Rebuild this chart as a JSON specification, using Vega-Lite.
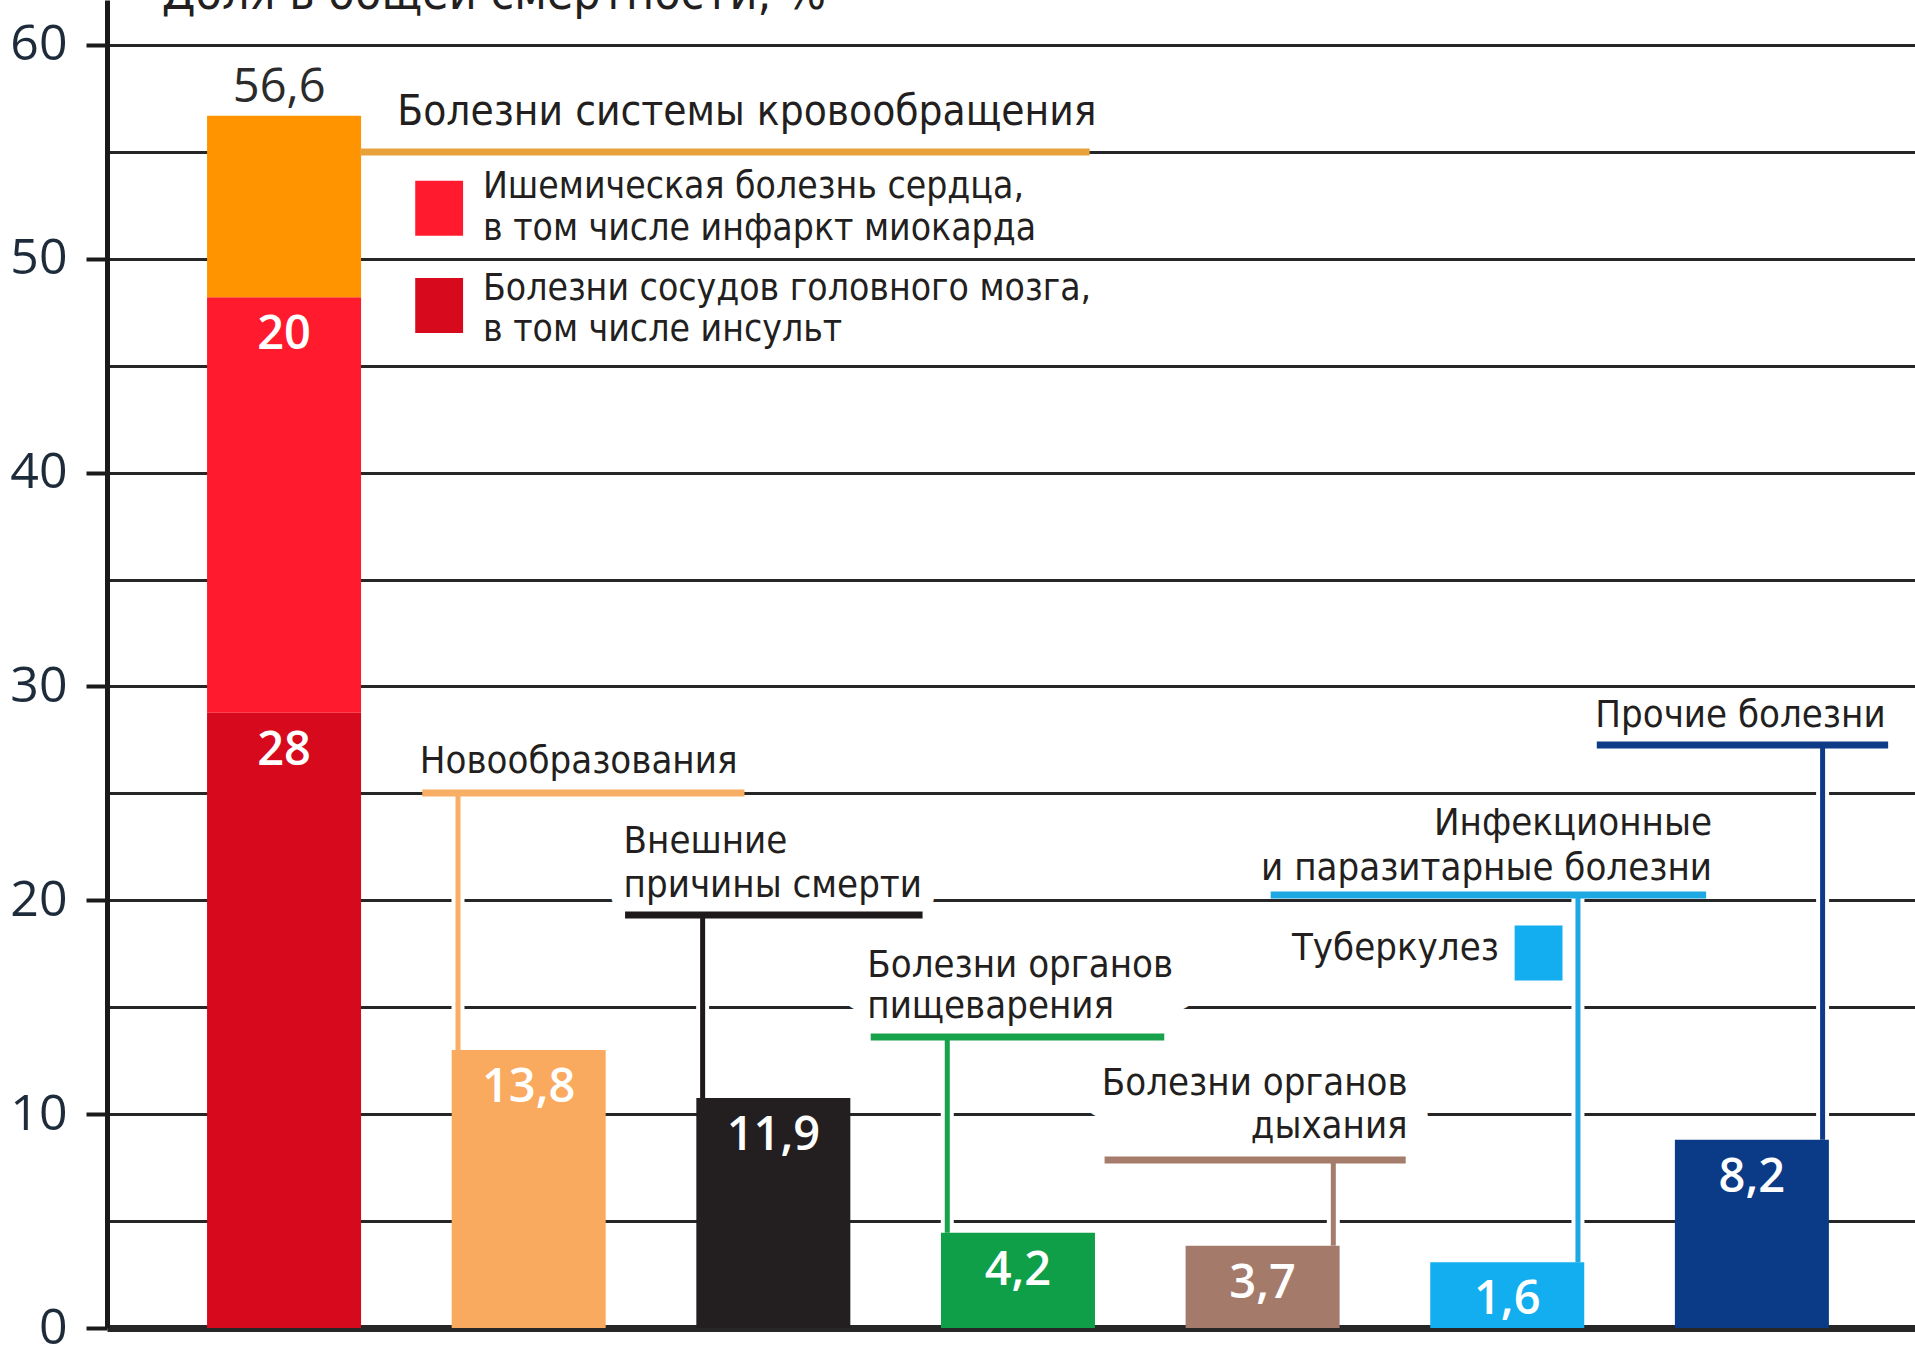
{
  "$schema": "https://vega.github.io/schema/vega-lite/v6.json",
  "width": 1808,
  "height": 1328,
  "autosize": {"type": "none"},
  "padding": {"left": 107, "top": 0, "right": 0, "bottom": 29},
  "background": "white",
  "config": {"view": {"stroke": null}},
  "datasets": {
    "bars": [
      {"x": 0, "y": 0, "y2": 28.77, "part": "cvd", "label": "28"},
      {"x": 0, "y": 28.77, "y2": 48.2, "part": "ihd", "label": "20"},
      {"x": 0, "y": 48.2, "y2": 56.69, "part": "circ", "label": ""},
      {"x": 1, "y": 0, "y2": 13.0, "part": "neo", "label": "13,8"},
      {"x": 2, "y": 0, "y2": 10.76, "part": "ext", "label": "11,9"},
      {"x": 3, "y": 0, "y2": 4.45, "part": "dig", "label": "4,2"},
      {"x": 4, "y": 0, "y2": 3.85, "part": "resp", "label": "3,7"},
      {"x": 5, "y": 0, "y2": 3.07, "part": "inf", "label": "1,6"},
      {"x": 6, "y": 0, "y2": 8.8, "part": "other", "label": "8,2"}
    ],
    "total": [{"x": -0.02, "y": 56.6, "label": "56,6"}],
    "header": [{"x": 0.463, "y": 56.26, "text": "Болезни системы кровообращения"}],
    "legendLabels": [
      {"x": 0.813, "y": 52.85, "text": "Ишемическая болезнь сердца,"},
      {"x": 0.813, "y": 50.88, "text": "в том числе инфаркт миокарда"},
      {"x": 0.813, "y": 48.08, "text": "Болезни сосудов головного мозга,"},
      {"x": 0.813, "y": 46.16, "text": "в том числе инсульт"}
    ],
    "leftLabels": [
      {"x": 0.555, "y": 25.96, "text": "Новообразования"},
      {"x": 1.388, "y": 22.21, "text": "Внешние"},
      {"x": 1.388, "y": 20.16, "text": "причины смерти"},
      {"x": 2.384, "y": 16.42, "text": "Болезни органов"},
      {"x": 2.384, "y": 14.5, "text": "пищеварения"},
      {"x": 4.12, "y": 17.21, "text": "Туберкулез"},
      {"x": 5.36, "y": 28.11, "text": "Прочие болезни"}
    ],
    "rightLabels": [
      {"x": 4.593, "y": 10.9, "text": "Болезни органов"},
      {"x": 4.593, "y": 8.89, "text": "дыхания"},
      {"x": 5.837, "y": 23.06, "text": "Инфекционные"},
      {"x": 5.837, "y": 20.95, "text": "и паразитарные болезни"}
    ],
    "title": [{"x": -0.5, "y": 61.7, "text": "Доля в общей смертности, %"}],
    "leaders": [
      {"grp": "circ", "kind": "under", "x": 0.31, "x2": 3.293, "y": 55.0, "y2": 55.0},
      {"grp": "neo", "kind": "under", "x": 0.565, "x2": 1.882, "y": 25.02, "y2": 25.02},
      {"grp": "neo", "kind": "leader", "x": 0.711, "x2": 0.711, "y": 25.02, "y2": 13.0},
      {"grp": "ext", "kind": "under", "x": 1.394, "x2": 2.61, "y": 19.31, "y2": 19.31},
      {"grp": "ext", "kind": "leader", "x": 1.711, "x2": 1.711, "y": 19.31, "y2": 10.76},
      {"grp": "dig", "kind": "under", "x": 2.398, "x2": 3.598, "y": 13.61, "y2": 13.61},
      {"grp": "dig", "kind": "leader", "x": 2.711, "x2": 2.711, "y": 13.61, "y2": 4.45},
      {"grp": "resp", "kind": "under", "x": 3.354, "x2": 4.585, "y": 7.86, "y2": 7.86},
      {"grp": "resp", "kind": "leader", "x": 4.289, "x2": 4.289, "y": 7.86, "y2": 3.85},
      {"grp": "inf", "kind": "under", "x": 4.033, "x2": 5.813, "y": 20.25, "y2": 20.25},
      {"grp": "inf", "kind": "leader", "x": 5.289, "x2": 5.289, "y": 20.25, "y2": 3.07},
      {"grp": "other", "kind": "under", "x": 5.366, "x2": 6.557, "y": 27.26, "y2": 27.26},
      {"grp": "other", "kind": "leader", "x": 6.289, "x2": 6.289, "y": 27.26, "y2": 8.8}
    ],
    "swatches": [
      {"x": 0.634, "y": 52.36, "part": "ihd"},
      {"x": 0.634, "y": 47.82, "part": "cvd"},
      {"x": 5.128, "y": 17.54, "part": "inf"}
    ]
  },
  "encoding": {
    "x": {"field": "x", "type": "quantitative", "scale": {"domain": [-0.7033, 6.6463], "nice": false, "zero": false}, "axis": null},
    "y": {
      "field": "y", "type": "quantitative",
      "scale": {"domain": [0, 62.104], "nice": false, "zero": false},
      "axis": {
        "title": null,
        "values": [0, 5, 10, 15, 20, 25, 30, 35, 40, 45, 50, 55, 60],
        "labelExpr": "datum.value % 10 === 0 ? datum.label : ''",
        "labelFont": "Open Sans, sans-serif",
        "labelFontSize": 50,
        "labelColor": "#1d2b3a",
        "labelPadding": 19,
        "labelFlush": false,
        "labelOverlap": false,
        "labelBound": false,
        "tickSize": 21,
        "tickWidth": 4,
        "tickColor": {"condition": {"test": "datum.value % 10 === 0", "value": "#1a1a1a"}, "value": "rgba(0,0,0,0)"},
        "domainColor": "#1a1a1a",
        "domainWidth": 5,
        "grid": true,
        "gridColor": "#262626",
        "gridOpacity": 1,
        "gridWidth": {"condition": {"test": "datum.value === 0", "value": 7}, "value": 3}
      }
    }
  },
  "layer": [
    {
      "data": {"name": "leftLabels"},
      "transform": [{"filter": {"field": "text", "oneOf": ["причины смерти", "пищеварения"]}}],
      "mark": {"type": "text", "align": "left", "baseline": "alphabetic", "font": "DejaVu Sans Condensed, sans-serif", "fontSize": 38, "fill": "white", "stroke": "white", "strokeWidth": 30, "strokeJoin": "round"},
      "encoding": {"text": {"field": "text"}}
    },
    {
      "data": {"name": "leftLabels"},
      "transform": [{"filter": {"field": "text", "equal": "Болезни органов"}}],
      "mark": {"type": "text", "align": "left", "baseline": "alphabetic", "font": "DejaVu Sans Condensed, sans-serif", "fontSize": 38, "fill": "white", "stroke": "white", "strokeWidth": 72, "strokeJoin": "round"},
      "encoding": {"text": {"field": "text"}}
    },
    {
      "data": {"name": "rightLabels"},
      "transform": [{"filter": {"field": "text", "oneOf": ["дыхания", "Болезни органов"]}}],
      "mark": {"type": "text", "align": "right", "baseline": "alphabetic", "font": "DejaVu Sans Condensed, sans-serif", "fontSize": 38, "fill": "white", "stroke": "white", "strokeWidth": 46, "strokeJoin": "round"},
      "encoding": {"text": {"field": "text"}}
    },
    {
      "data": {"name": "leaders"},
      "transform": [{"filter": "datum.kind === 'leader'"}],
      "mark": {"type": "rule", "color": "white", "strokeWidth": 13},
      "encoding": {"x2": {"field": "x2"}, "y2": {"field": "y2"}}
    },
    {
      "data": {"name": "bars"},
      "mark": {"type": "bar", "width": 154},
      "encoding": {
        "y2": {"field": "y2"},
        "fill": {"field": "part", "type": "nominal", "legend": null,
          "scale": {"domain": ["cvd", "ihd", "circ", "neo", "ext", "dig", "resp", "inf", "other"],
                    "range": ["#D7091D", "#FF1A2D", "#FF9400", "#F9AA5F", "#231F20", "#0E9F48", "#A47B6B", "#12AEEF", "#0B3A87"]}}
      }
    },
    {
      "data": {"name": "leaders"},
      "transform": [{"filter": "datum.kind === 'leader'"}],
      "mark": {"type": "rule", "strokeWidth": 5},
      "encoding": {
        "x2": {"field": "x2"}, "y2": {"field": "y2"},
        "stroke": {"field": "grp", "type": "nominal", "legend": null,
          "scale": {"domain": ["circ", "neo", "ext", "dig", "resp", "inf", "other"],
                    "range": ["#E9A13B", "#F8AE64", "#1E1A1B", "#17A24B", "#A57C6C", "#1DA8E4", "#0D3B87"]}}
      }
    },
    {
      "data": {"name": "leaders"},
      "transform": [{"filter": "datum.kind === 'under'"}],
      "mark": {"type": "rule", "strokeWidth": 7},
      "encoding": {
        "x2": {"field": "x2"}, "y2": {"field": "y2"},
        "stroke": {"field": "grp", "type": "nominal", "legend": null}
      }
    },
    {
      "data": {"name": "swatches"},
      "mark": {"type": "point", "filled": true, "shape": "M-0.87,-1H0.87V1H-0.87Z", "size": 3025, "opacity": 1, "strokeWidth": 0},
      "encoding": {"fill": {"field": "part", "type": "nominal", "legend": null}}
    },
    {
      "data": {"name": "bars"},
      "mark": {"type": "text", "align": "center", "baseline": "middle", "dy": 38, "font": "Open Sans, sans-serif", "fontSize": 47, "fontWeight": 600, "fill": "white"},
      "encoding": {"y": {"field": "y2", "type": "quantitative"}, "text": {"field": "label"}}
    },
    {
      "data": {"name": "total"},
      "mark": {"type": "text", "align": "center", "baseline": "alphabetic", "dy": -16, "font": "Open Sans, sans-serif", "fontSize": 47, "fill": "#2b2b2b"},
      "encoding": {"text": {"field": "label"}}
    },
    {
      "data": {"name": "header"},
      "mark": {"type": "text", "align": "left", "baseline": "alphabetic", "font": "DejaVu Sans Condensed, sans-serif", "fontSize": 42, "fill": "#231F20"},
      "encoding": {"text": {"field": "text"}}
    },
    {
      "data": {"name": "legendLabels"},
      "mark": {"type": "text", "align": "left", "baseline": "alphabetic", "font": "DejaVu Sans Condensed, sans-serif", "fontSize": 37, "fill": "#231F20"},
      "encoding": {"text": {"field": "text"}}
    },
    {
      "data": {"name": "leftLabels"},
      "mark": {"type": "text", "align": "left", "baseline": "alphabetic", "font": "DejaVu Sans Condensed, sans-serif", "fontSize": 38, "fill": "#231F20"},
      "encoding": {"text": {"field": "text"}}
    },
    {
      "data": {"name": "rightLabels"},
      "mark": {"type": "text", "align": "right", "baseline": "alphabetic", "font": "DejaVu Sans Condensed, sans-serif", "fontSize": 38, "fill": "#231F20"},
      "encoding": {"text": {"field": "text"}}
    },
    {
      "data": {"name": "title"},
      "mark": {"type": "text", "align": "left", "baseline": "alphabetic", "font": "DejaVu Sans Condensed, sans-serif", "fontSize": 48, "fill": "#231F20"},
      "encoding": {"text": {"field": "text"}}
    },
    {
      "data": {"values": [{}]},
      "mark": {"type": "rule", "color": "#1a1a1a", "strokeWidth": 7},
      "encoding": {"x": {"datum": -0.7033}, "x2": {"datum": 6.6463}, "y": {"datum": 0}}
    }
  ]
}
